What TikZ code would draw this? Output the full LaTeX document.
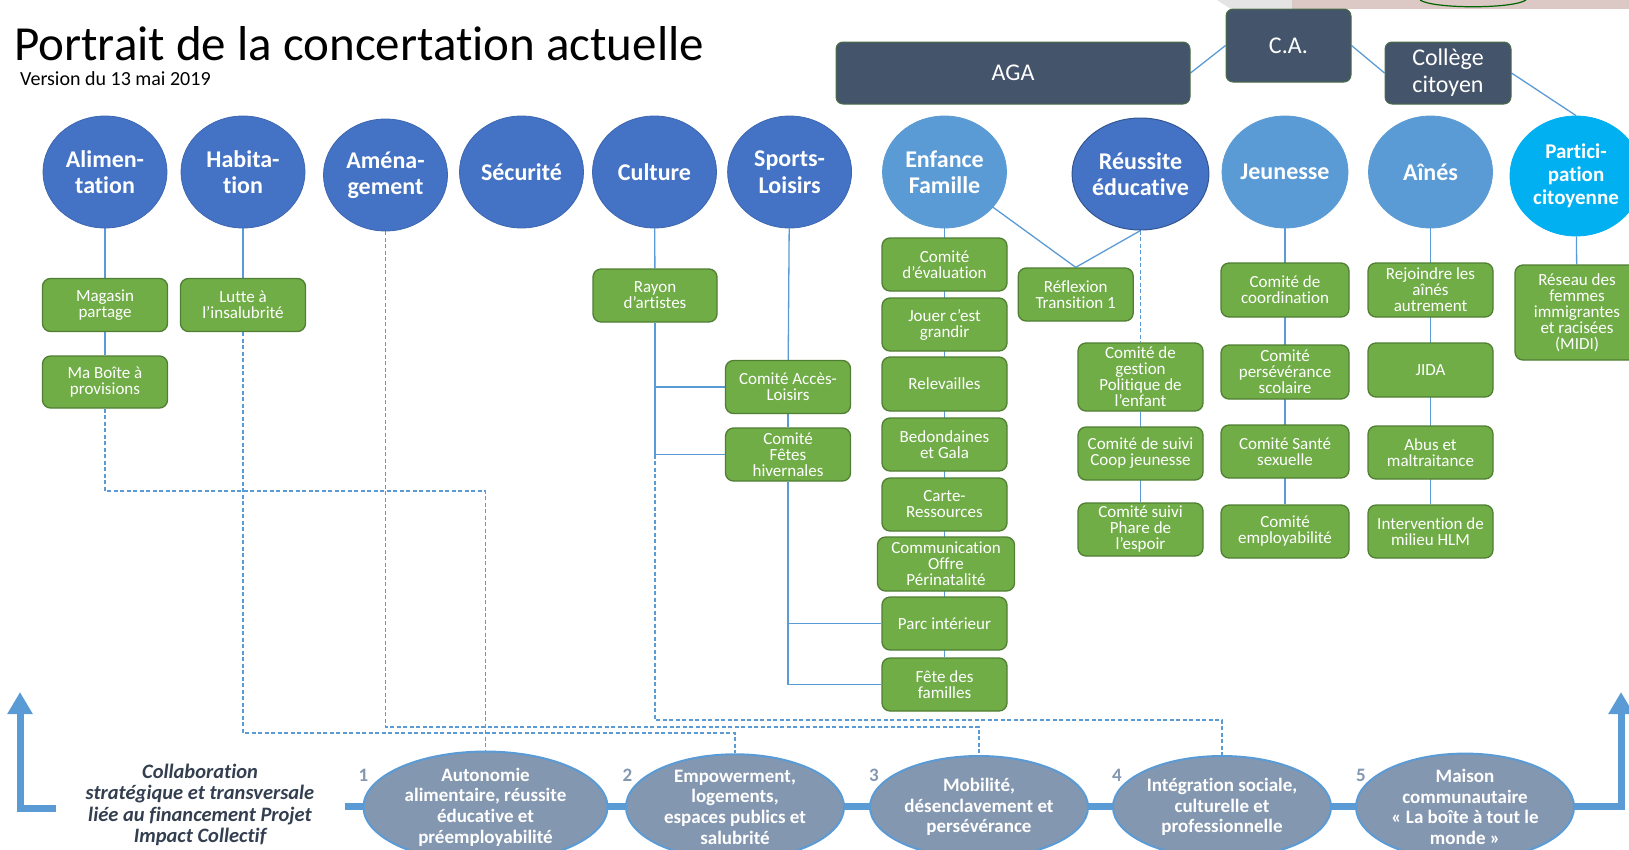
\documentclass[tikz,border=0pt]{standalone}
\usepackage{fontspec}
\setmainfont[Ligatures=NoCommon]{Carlito}
\usetikzlibrary{shapes.geometric,arrows.meta}
\definecolor{dkblue}{HTML}{4472C4}
\definecolor{ltblue}{HTML}{5B9BD5}
\definecolor{cyanb}{HTML}{00B0F0}
\definecolor{gfill}{HTML}{70AD47}
\definecolor{gdraw}{HTML}{507E32}
\definecolor{slate}{HTML}{44546A}
\definecolor{ellfill}{HTML}{8497B0}
\definecolor{textdk}{HTML}{333F50}
\definecolor{numgray}{HTML}{8497B0}
\definecolor{linec}{HTML}{5B9BD5}
\definecolor{pinkc}{HTML}{DCC8C5}
\definecolor{grayc}{HTML}{E4E4E4}
\pgfdeclarelayer{bg}
\pgfsetlayers{bg,main}
\tikzset{
 conn/.style={draw=linec, line width=1.3pt},
 dconn/.style={draw=linec, line width=1.1pt, dash pattern=on 4pt off 2.5pt},
 topbox/.style={rounded corners=7pt, fill=slate, draw=gdraw!60!slate, line width=1pt, text=white, font=\fontsize{24}{27}\selectfont, align=center, inner sep=0pt},
 circ/.style={ellipse, fill=dkblue, draw=dkblue!90!black, line width=0.8pt, text=white, font=\bfseries\fontsize{24}{26.5}\selectfont, align=center, minimum width=124pt, minimum height=112pt, inner sep=0pt},
 lcirc/.style={circ, fill=ltblue, draw=ltblue},
 gbox/.style={rounded corners=8pt, fill=gfill, draw=gdraw, line width=1.3pt, text=white, font=\fontsize{17}{16}\selectfont, align=center, minimum width=125pt, minimum height=53pt, inner sep=0pt},
 bell/.style={ellipse, fill=ellfill, draw=linec, line width=2pt, text=white, font=\bfseries\fontsize{19}{20.7}\selectfont, align=center, minimum width=218pt, minimum height=102pt, inner sep=0pt},
 num/.style={text=numgray, font=\bfseries\fontsize{19}{20}\selectfont, inner sep=0pt},
 bigline/.style={draw=linec, line width=7pt, -{Triangle[width=24pt,length=22pt]}},
}
\begin{document}
\begin{tikzpicture}[x=1pt,y=-1pt]
\useasboundingbox (0,0) rectangle (1629,849);
% decoration top right
\fill[grayc] (1217,0) -- (1292,0) -- (1292,8.5) -- (1230,8.5) -- cycle;
\fill[pinkc] (1292,0) rectangle (1629,8.5);
\draw[green!40!black, line width=1.2pt] (1420,0) .. controls (1433,9) and (1513,9) .. (1526,0);
% title
\node[anchor=base west, inner sep=0pt, text depth=0pt, font=\fontsize{49}{55}\selectfont] (title) at (14,60.5) {Portrait de la concertation actuelle};
\node[anchor=base west, inner sep=0pt, font=\fontsize{20}{23}\selectfont] (version) at (20,85) {Version du 13 mai 2019};
% top boxes
\node[topbox, minimum width=354pt, minimum height=62pt] (aga) at (1013,73) {AGA};
\node[topbox, minimum width=125pt, minimum height=73pt] (ca) at (1288.5,45.5) {C.A.};
\node[topbox, minimum width=126pt, minimum height=62pt] (college) at (1448,73) {Collège\\citoyen};
% circles
\node[circ] (alim) at (105,172) {Alimen-\\tation};
\node[circ] (habit) at (243,172) {Habita-\\tion};
\node[circ] (amenag) at (385.5,175) {Aména-\\gement};
\node[circ] (secur) at (521.5,172) {Sécurité};
\node[circ] (culture) at (654.5,172) {Culture};
\node[circ] (sports) at (789.6,172) {Sports-\\Loisirs};
\node[lcirc] (enfance) at (944.5,172) {Enfance\\Famille};
\node[circ, draw=dkblue!75!black, line width=1pt] (reussite) at (1140.5,174) {Réussite\\éducative};
\node[lcirc] (jeunesse) at (1285,172) {Jeunesse};
\node[lcirc] (aines) at (1430.5,172) {Aînés};
\node[circ, fill=cyanb, draw=cyanb, minimum width=132pt, minimum height=120pt, font=\bfseries\fontsize{21}{23}\selectfont] (partic) at (1576,176) {Partici-\\pation\\citoyenne};
% green boxes
\node[gbox] (magasin) at (105,305) {Magasin\\partage};
\node[gbox, minimum height=52pt] (maboite) at (105,382) {Ma Boîte à\\provisions};
\node[gbox] (lutte) at (243,305) {Lutte à\\l’insalubrité};
\node[gbox, minimum width=124pt] (rayon) at (655,295.5) {Rayon\\d’artistes};
\node[gbox] (acces) at (788,387) {Comité Accès-\\Loisirs};
\node[gbox] (fetes) at (788,454.5) {Comité\\Fêtes\\hivernales};
\node[gbox] (evaluation) at (944.5,264.5) {Comité\\d’évaluation};
\node[gbox] (jouer) at (944.5,324.5) {Jouer c’est\\grandir};
\node[gbox, minimum height=54pt] (relev) at (944.5,384) {Relevailles};
\node[gbox] (bedon) at (944.5,444.5) {Bedondaines\\et Gala};
\node[gbox] (carte) at (944.5,504.5) {Carte-\\Ressources};
\node[gbox, minimum width=137pt, minimum height=54pt] (commu) at (946,564) {Communication\\Offre\\Périnatalité};
\node[gbox] (parc) at (944.5,623.5) {Parc intérieur};
\node[gbox] (fetefam) at (944.5,684.5) {Fête des\\familles};
\node[gbox, minimum width=115pt] (reflexion) at (1075.7,294.5) {Réflexion\\Transition 1};
\node[gbox, minimum height=68pt] (gestion) at (1140.5,377) {Comité de\\gestion\\Politique de\\l’enfant};
\node[gbox] (coop) at (1140.5,453.5) {Comité de suivi\\Coop jeunesse};
\node[gbox] (phare) at (1140.5,529.5) {Comité suivi\\Phare de\\l’espoir};
\node[gbox, minimum width=128pt, minimum height=54pt] (coord) at (1285,290) {Comité de\\coordination};
\node[gbox, minimum width=128pt, minimum height=54pt] (perse) at (1285,372) {Comité\\persévérance\\scolaire};
\node[gbox, minimum width=128pt] (sante) at (1285,451.5) {Comité Santé\\sexuelle};
\node[gbox, minimum width=128pt] (emploi) at (1285,531.5) {Comité\\employabilité};
\node[gbox, minimum height=54pt] (rejoindre) at (1430.5,290) {Rejoindre les\\aînés\\autrement};
\node[gbox, minimum height=54pt] (jida) at (1430.5,370) {JIDA};
\node[gbox] (abus) at (1430.5,452.5) {Abus et\\maltraitance};
\node[gbox] (interv) at (1430.5,531.5) {Intervention de\\milieu HLM};
\node[gbox, minimum width=124pt, minimum height=95pt] (reseau) at (1577,312.5) {Réseau des\\femmes\\immigrantes\\et racisées\\(MIDI)};
% bottom ellipses
\node[bell, minimum width=244pt] (e1) at (485.5,807) {Autonomie\\alimentaire, réussite\\éducative et\\préemployabilité};
\node[bell] (e2) at (735,807) {Empowerment,\\logements,\\espaces publics et\\salubrité};
\node[bell] (e3) at (979,807) {Mobilité,\\désenclavement et\\persévérance};
\node[bell] (e4) at (1222,807) {Intégration sociale,\\culturelle et\\professionnelle};
\node[bell] (e5) at (1465,807) {Maison\\communautaire\\« La boîte à tout le\\monde »};
\node[num] (n1) at (363.5,775) {1};
\node[num] (n2) at (627.5,775) {2};
\node[num] (n3) at (874,775) {3};
\node[num] (n4) at (1117,775) {4};
\node[num] (n5) at (1361,775) {5};
\node[text=textdk, font=\bfseries\itshape\fontsize{20.5}{21.3}\selectfont, align=center, inner sep=0pt] (collab) at (200,805) {Collaboration\\stratégique et transversale\\liée au financement Projet\\Impact Collectif};
% coordinates
\coordinate (k1) at (485.5,491);
\coordinate (k2) at (735,733);
\coordinate (k3) at (979,727);
\coordinate (k4) at (1222,720);
\coordinate (b0) at (345,806);
\coordinate (b1) at (1621,806);
\coordinate (b2) at (1621,692);
\coordinate (l0) at (56,808);
\coordinate (l1) at (20,808);
\coordinate (l2) at (20,692);
\begin{pgfonlayer}{bg}
\draw[conn] (aga.east) -- (ca.west);
\draw[conn] (ca.east) -- (college.west);
\draw[conn] (college.east) -- (partic.north);
\draw[conn] (alim) -- (magasin);
\draw[conn] (magasin) -- (maboite);
\draw[conn] (habit) -- (lutte);
\draw[conn] (culture) -- (rayon);
\draw[conn] (rayon.south) |- (acces.west);
\draw[conn] (rayon.south) |- (fetes.west);
\draw[conn] (sports) -- (acces);
\draw[conn] (acces) -- (fetes);
\draw[conn] (fetes.south) |- (parc.west);
\draw[conn] (fetes.south) |- (fetefam.west);
\draw[conn] (enfance) -- (fetefam);
\draw[conn] (enfance) -- (reflexion.north);
\draw[conn] (reussite.south) -- (reflexion.north);
\draw[dconn] (reussite.south) -- (gestion.north);
\draw[conn] (gestion) -- (phare);
\draw[conn] (jeunesse) -- (emploi);
\draw[conn] (aines) -- (interv);
\draw[conn] (partic) -- (reseau);
\draw[dconn] (maboite.south) |- (k1) -- (e1.north);
\draw[dconn] (lutte.south) |- (k2) -- (e2.north);
\draw[dconn] (amenag.south) |- (k3) -- (e3.north);
\draw[dconn] (rayon.south |- fetes.west) |- (k4) -- (e4.north);
\draw[bigline] (b0) -- (b1) -- (b2);
\draw[bigline] (l0) -- (l1) -- (l2);
\end{pgfonlayer}
\end{tikzpicture}
\end{document}
